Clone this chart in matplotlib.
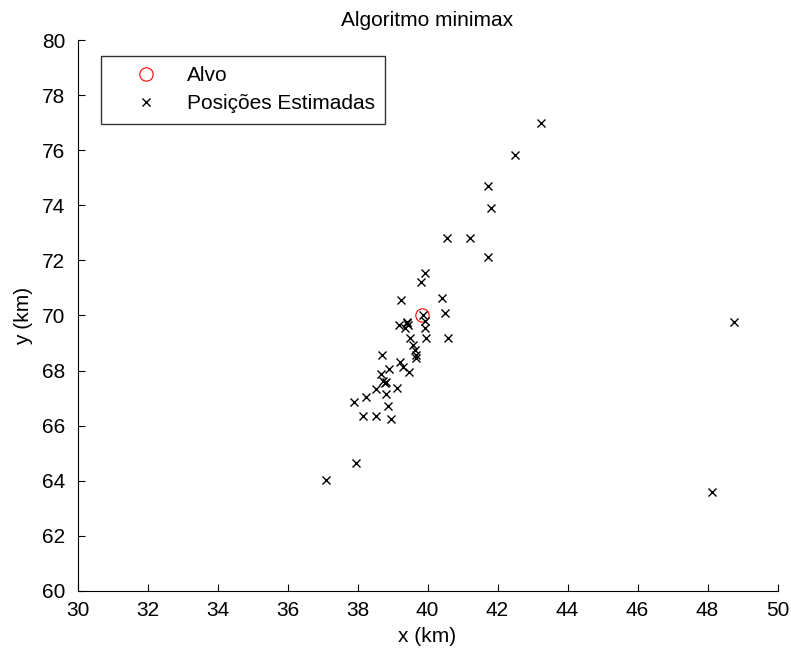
import numpy as np
import matplotlib
matplotlib.use('Agg')
from matplotlib import pyplot as plt

plt.rcParams['font.family'] = ['Liberation Sans', 'DejaVu Sans']

# target position (km)
alvo_x = [39.85]
alvo_y = [70.0]

# estimated positions (km)
est_x = [43.24, 42.50, 41.72, 41.82, 40.55, 41.20, 41.72, 39.94, 39.82,
         39.23, 40.40, 40.50, 39.87, 39.94, 39.40, 39.18, 39.45, 39.35,
         39.42, 39.92, 39.96, 40.59, 39.49, 39.59, 39.63, 39.68, 38.69,
         39.68, 39.21, 39.31, 39.47, 38.90, 38.68, 38.74, 38.79, 38.82,
         39.12, 38.53, 38.81, 38.23, 37.90, 38.86, 38.15, 38.54, 38.95,
         37.95, 37.10, 48.76, 48.12]
est_y = [77.00, 75.83, 74.70, 73.89, 72.80, 72.80, 72.11, 71.53, 71.23,
         70.56, 70.62, 70.08, 70.02, 69.80, 69.77, 69.66, 69.66, 69.55,
         69.72, 69.54, 69.17, 69.17, 69.17, 68.93, 68.75, 68.57, 68.57,
         68.45, 68.32, 68.14, 67.94, 68.06, 67.87, 67.62, 67.54, 67.58,
         67.36, 67.32, 67.15, 67.05, 66.87, 66.72, 66.35, 66.35, 66.24,
         64.64, 64.03, 69.77, 63.60]

fig = plt.figure(figsize=(7.91, 6.53), dpi=100)
ax = fig.add_axes([0.098, 0.095, 0.885, 0.8437])

ax.plot(alvo_x, alvo_y, 'o', mfc='none', mec='red', ms=9.6, mew=0.8,
        label='Alvo')
ax.plot(est_x, est_y, 'x', color='black', ms=5.5, mew=1.0,
        label='Posições Estimadas')

ax.set_xlim(30, 50)
ax.set_ylim(60, 80)
ax.set_xticks(np.arange(30, 51, 2))
ax.set_yticks(np.arange(60, 81, 2))
ax.tick_params(direction='in', length=5, width=0.8, labelsize=15, pad=7,
               colors='black')
ax.tick_params(axis='y', pad=9)
for s in ['top', 'right']:
    ax.spines[s].set_visible(False)
for s in ['left', 'bottom']:
    ax.spines[s].set_linewidth(0.8)

ax.set_title('Algoritmo minimax', fontsize=15, pad=10)
ax.set_xlabel('x (km)', fontsize=15, labelpad=5)
ax.set_ylabel('y (km)', fontsize=15, labelpad=6)

leg = ax.legend(loc='upper left', bbox_to_anchor=(0.033, 0.971),
                borderaxespad=0, fontsize=15, frameon=True, fancybox=False,
                edgecolor='black', handlelength=3.4, handletextpad=0.25,
                borderpad=0.5, labelspacing=0.42)
leg.get_frame().set_linewidth(1.0)

fig.savefig('out.png', dpi=100)
